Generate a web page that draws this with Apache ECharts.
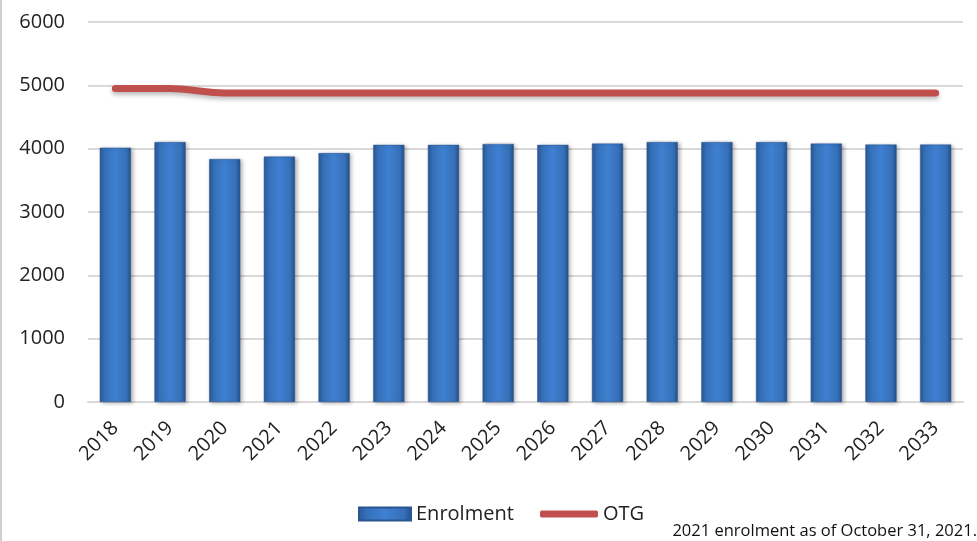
<!DOCTYPE html>
<html><head><meta charset="utf-8">
<script src="https://cdn.jsdelivr.net/npm/echarts@6/dist/echarts.min.js"></script>
<style>html,body{margin:0;padding:0;background:#fff}#c{width:977px;height:541px}</style>
</head><body><div id="c"></div>
<script>
const years = ['2018','2019','2020','2021','2022','2023','2024','2025','2026','2027','2028','2029','2030','2031','2032','2033'];
const enrolment = [4015,4105,3835,3875,3930,4060,4060,4075,4060,4080,4105,4105,4105,4080,4065,4065];
const otg = [4950,4950,4880,4880,4880,4880,4880,4880,4880,4880,4880,4880,4880,4880,4880,4880];
const yTicks = [0,1000,2000,3000,4000,5000,6000];
const footnote = '2021 enrolment as of October 31, 2021.';

const font = '"Open Sans", "Liberation Sans", sans-serif';
const chart = echarts.init(document.getElementById('c'));
const barGrad = new echarts.graphic.LinearGradient(0,0,1,0,[
  {offset:0,color:'#2a5894'},{offset:0.15,color:'#3670b8'},{offset:0.5,color:'#3f80d2'},
  {offset:0.85,color:'#3670b8'},{offset:1,color:'#24508a'}]);
const legendText = {fontFamily:font,fontSize:20,color:'#222'};
chart.setOption({
  animation:false,
  grid:{left:88,right:14,top:22,bottom:139,containLabel:false},
  legend:[
    {left:353,top:499,itemGap:0,textStyle:legendText,
      data:[{name:'Enrolment',icon:'rect',itemStyle:{color:barGrad}}],
      itemWidth:52,itemHeight:13},
    {left:535,top:499,itemGap:0,textStyle:legendText,
      data:[{name:'OTG',icon:'roundRect',itemStyle:{color:'#c0504d'}}],
      itemWidth:58,itemHeight:7}
  ],
  xAxis:{type:'category',data:years,
    axisLine:{lineStyle:{color:'#d9d9d9',width:2}},axisTick:{show:false},
    axisLabel:{rotate:45,fontFamily:font,fontSize:20,color:'#222',margin:23,interval:0}},
  yAxis:{type:'value',min:yTicks[0],max:yTicks[yTicks.length-1],interval:1000,
    axisLine:{show:false},axisTick:{show:false},
    splitLine:{lineStyle:{color:'#d9d9d9',width:2}},
    axisLabel:{fontFamily:font,fontSize:20,color:'#222',margin:23,formatter:v=>String(v)}},
  series:[
    {name:'Enrolment',type:'bar',data:enrolment,barWidth:'57%',
      itemStyle:{color:barGrad,borderColor:'#2a5590',borderWidth:0.5,
        shadowColor:'rgba(0,0,0,0.3)',shadowBlur:4,shadowOffsetX:2,shadowOffsetY:1}},
    {name:'OTG',type:'line',data:otg,smooth:0.3,showSymbol:false,symbol:'none',
      itemStyle:{color:'#c0504d'},
      lineStyle:{color:'#c0504d',width:7,cap:'round',shadowColor:'rgba(0,0,0,0.25)',shadowBlur:4,shadowOffsetY:3}}
  ],
  graphic:[
    {type:'line',shape:{x1:1,y1:0,x2:1,y2:541},style:{stroke:'#bfbfbf',lineWidth:1.5}},
    {type:'text',right:0,bottom:1,style:{text:footnote,fontFamily:font,fontSize:16.5,fill:'#111'}}
  ]
});
</script></body></html>
